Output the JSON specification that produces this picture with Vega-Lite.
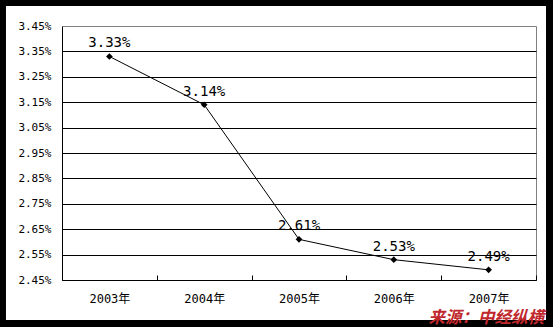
{
  "$schema": "https://vega.github.io/schema/vega-lite/v6.json",
  "width": 474,
  "height": 254,
  "autosize": {"type": "none"},
  "padding": {"left": 62, "top": 26, "right": 17, "bottom": 47},
  "background": "black",
  "config": {"view": {"stroke": null}},
  "title": {
    "text": "来源：中经纵横",
    "orient": "bottom",
    "anchor": "end",
    "frame": "group",
    "font": "Noto Sans CJK SC",
    "fontSize": 16.5,
    "fontWeight": "bold",
    "fontStyle": "italic",
    "color": "#c0282d",
    "offset": -10,
    "dx": 8
  },
  "data": {
    "values": [
      {"year": 2003, "rate": 0.0333},
      {"year": 2004, "rate": 0.0314},
      {"year": 2005, "rate": 0.0261},
      {"year": 2006, "rate": 0.0253},
      {"year": 2007, "rate": 0.0249}
    ]
  },
  "layer": [
    {
      "data": {"values": [{}]},
      "mark": {"type": "rect", "fill": "white"},
      "encoding": {
        "x": {
          "datum": 2001.909,
          "type": "quantitative",
          "scale": {"domain": [2002.5, 2007.5], "nice": false, "zero": false},
          "axis": {
            "title": null,
            "values": [2002.5, 2003, 2003.5, 2004, 2004.5, 2005, 2005.5, 2006, 2006.5, 2007, 2007.5],
            "tickCount": 30,
            "labelExpr": "datum.value % 1 == 0 ? datum.value + '年' : ''",
            "labelFont": "DejaVu Sans Mono, Noto Sans CJK SC",
            "labelFontSize": 12,
            "labelColor": "black",
            "labelPadding": 18,
            "labelOverlap": false,
            "labelFlush": false,
            "tickSize": -5,
            "tickColor": "black",
            "tickOpacity": {"condition": {"test": "datum.value % 1 == 0", "value": 0}, "value": 1},
            "domainColor": "black",
            "grid": true,
            "gridColor": "#808080",
            "gridOpacity": {"condition": {"test": "datum.value > 2007.4", "value": 1}, "value": 0},
            "zindex": 1
          }
        },
        "x2": {"datum": 2007.6055},
        "y": {
          "datum": 0.035287,
          "type": "quantitative",
          "scale": {"domain": [0.0245, 0.0345], "nice": false, "zero": false},
          "axis": {
            "title": null,
            "values": [0.0245, 0.0255, 0.0265, 0.0275, 0.0285, 0.0295, 0.0305, 0.0315, 0.0325, 0.0335, 0.0345],
            "tickCount": 30,
            "format": ".2%",
            "labelFont": "DejaVu Sans Mono",
            "labelFontSize": 11,
            "labelColor": "black",
            "labelPadding": 11,
            "labelOverlap": false,
            "labelFlush": false,
            "ticks": false,
            "domainColor": "black",
            "grid": true,
            "gridColor": {"condition": {"test": "datum.value > 0.0344", "value": "#808080"}, "value": "black"},
            "gridOpacity": 1,
            "zindex": 1
          }
        },
        "y2": {"datum": 0.022925}
      }
    },
    {
      "mark": {
        "type": "line",
        "color": "black",
        "strokeWidth": 1,
        "point": {"shape": "diamond", "size": 45, "filled": true, "color": "black"}
      },
      "encoding": {
        "x": {
          "field": "year",
          "type": "quantitative",
          "scale": {"domain": [2002.5, 2007.5], "nice": false, "zero": false},
          "axis": {
            "title": null,
            "values": [2002.5, 2003, 2003.5, 2004, 2004.5, 2005, 2005.5, 2006, 2006.5, 2007, 2007.5],
            "tickCount": 30,
            "labelExpr": "datum.value % 1 == 0 ? datum.value + '年' : ''",
            "labelFont": "DejaVu Sans Mono, Noto Sans CJK SC",
            "labelFontSize": 12,
            "labelColor": "black",
            "labelPadding": 18,
            "labelOverlap": false,
            "labelFlush": false,
            "tickSize": -5,
            "tickColor": "black",
            "tickOpacity": {"condition": {"test": "datum.value % 1 == 0", "value": 0}, "value": 1},
            "domainColor": "black",
            "grid": true,
            "gridColor": "#808080",
            "gridOpacity": {"condition": {"test": "datum.value > 2007.4", "value": 1}, "value": 0},
            "zindex": 1
          }
        },
        "y": {
          "field": "rate",
          "type": "quantitative",
          "scale": {"domain": [0.0245, 0.0345], "nice": false, "zero": false},
          "axis": {
            "title": null,
            "values": [0.0245, 0.0255, 0.0265, 0.0275, 0.0285, 0.0295, 0.0305, 0.0315, 0.0325, 0.0335, 0.0345],
            "tickCount": 30,
            "format": ".2%",
            "labelFont": "DejaVu Sans Mono",
            "labelFontSize": 11,
            "labelColor": "black",
            "labelPadding": 11,
            "labelOverlap": false,
            "labelFlush": false,
            "ticks": false,
            "domainColor": "black",
            "grid": true,
            "gridColor": {"condition": {"test": "datum.value > 0.0344", "value": "#808080"}, "value": "black"},
            "gridOpacity": 1,
            "zindex": 1
          }
        }
      }
    },
    {
      "mark": {
        "type": "text",
        "font": "DejaVu Sans Mono",
        "fontSize": 14,
        "color": "black",
        "baseline": "alphabetic",
        "dy": -9
      },
      "encoding": {
        "x": {"field": "year", "type": "quantitative"},
        "y": {"field": "rate", "type": "quantitative"},
        "text": {"field": "rate", "type": "quantitative", "format": ".2%"}
      }
    }
  ]
}
